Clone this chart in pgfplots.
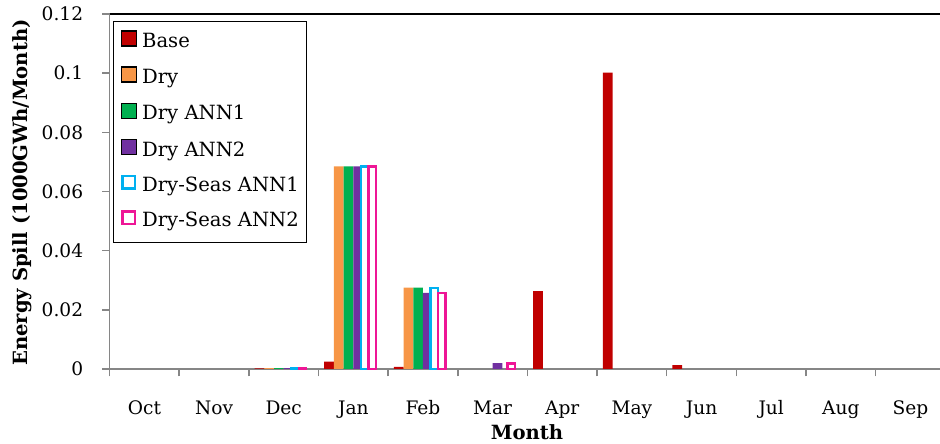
\documentclass[border=0pt]{standalone}
\usepackage{pgfplots}
\pgfplotsset{compat=1.18}
\usepackage{fontspec}
\setmainfont{DejaVu Serif}
\definecolor{cBase}{RGB}{192,0,0}
\definecolor{cDry}{RGB}{247,150,70}
\definecolor{cA1}{RGB}{0,176,80}
\definecolor{cA2}{RGB}{112,48,160}
\definecolor{cS1}{RGB}{0,176,240}
\definecolor{cS2}{RGB}{238,22,150}
\definecolor{axg}{RGB}{134,134,134}
\pgfplotsset{
  outlegend/.style={legend image code/.code={\path (0pt,0pt) (18.5pt,0pt);\draw[##1] (2.7pt,-1.8pt) rectangle (15.3pt,10.8pt);}},
}
\begin{document}
\begin{tikzpicture}
\path[use as bounding box] (-109.6pt,-75pt) rectangle (830.4pt,369pt);
\begin{axis}[
  scale only axis, width=830.4pt, height=355pt,
  at={(0pt,0pt)}, anchor=south west,
  xmin=-0.5, xmax=11.424, ymin=0, ymax=0.12,
  axis x line*=bottom, axis y line*=left,
  axis line style={axg, line width=1.6pt, -},
  ybar=0pt, bar width=9.7pt,
  xtick={0,1,2,3,4,5,6,7,8,9,10,11},
  xticklabels={Oct,Nov,Dec,Jan,Feb,Mar,Apr,May,Jun,Jul,Aug,Sep},
  minor xtick={-0.5,0.5,1.5,2.5,3.5,4.5,5.5,6.5,7.5,8.5,9.5,10.5,11.5},
  ytick={0,0.02,0.04,0.06,0.08,0.1,0.12},
  yticklabels={0,0.02,0.04,0.06,0.08,0.1,0.12},
  minor ytick={0,0.02,0.04,0.06,0.08,0.1,0.12},
  major tick length=0pt, minor tick length=7.5pt, tick align=outside,
  minor tick style={axg, line width=1.5pt},
  scaled y ticks=false,
  every tick label/.append style={font=\fontsize{18.6}{22}\selectfont},
  xticklabel style={anchor=base, yshift=-46pt},
  yticklabel style={anchor=east, inner sep=0pt, xshift=-26.3pt},
  xlabel={Month},
  xlabel style={font=\bfseries\fontsize{19.6}{23}\selectfont, at={(rel axis cs:0.5,0)}, anchor=center, yshift=-63pt, xshift=2.2pt},
  ylabel={Energy Spill (1000GWh/Month)},
  ylabel style={font=\bfseries\fontsize{19.6}{23}\selectfont, at={(rel axis cs:0,0.5)}, anchor=center, yshift=87.6pt, xshift=-1pt},
  clip=false,
  legend cell align=left,
  legend style={at={(0,1)}, anchor=north west, xshift=3.4pt, yshift=-6.7pt,
    draw=black, line width=1.3pt, font=\fontsize{19.6}{23}\selectfont,
    row sep=12.2pt, inner xsep=5pt, inner ysep=9pt,
    nodes={text height=14pt, text depth=4.5pt, inner xsep=2.6pt, inner ysep=2pt}},
  legend image code/.code={\path (0pt,0pt) (18.5pt,0pt);\draw[#1] (1.5pt,-3pt) rectangle (16.5pt,12pt);},
]
\addplot[fill=cBase, draw=none] coordinates {(2,0.0002) (3,0.0025) (4,0.0007) (6,0.0263) (7,0.1002) (8,0.0013)};
\addlegendentry{Base}
\addplot[fill=cDry, draw=none] coordinates {(2,0.0003) (3,0.0685) (4,0.0275)};
\addlegendentry{Dry}
\addplot[fill=cA1, draw=none] coordinates {(2,0.0003) (3,0.0685) (4,0.0275)};
\addlegendentry{Dry ANN1}
\addplot[fill=cA2, draw=none] coordinates {(2,0.0003) (3,0.0685) (4,0.0257) (5,0.0020)};
\addlegendentry{Dry ANN2}
\addplot[fill=white, draw=cS1, line width=2.4pt, bar width=7.5pt, outlegend]
  coordinates {(2,0.0004) (3,0.0685) (4,0.0273)};
\addlegendentry{Dry-Seas ANN1}
\addplot[fill=white, draw=cS2, line width=2.4pt, bar width=7.5pt, outlegend]
  coordinates {(2,0.0004) (3,0.0685) (4,0.0256) (5,0.0018)};
\addlegendentry{Dry-Seas ANN2}
\draw[black, line width=2pt] (rel axis cs:0,1) -- (rel axis cs:1,1);
\end{axis}
\end{tikzpicture}
\end{document}
